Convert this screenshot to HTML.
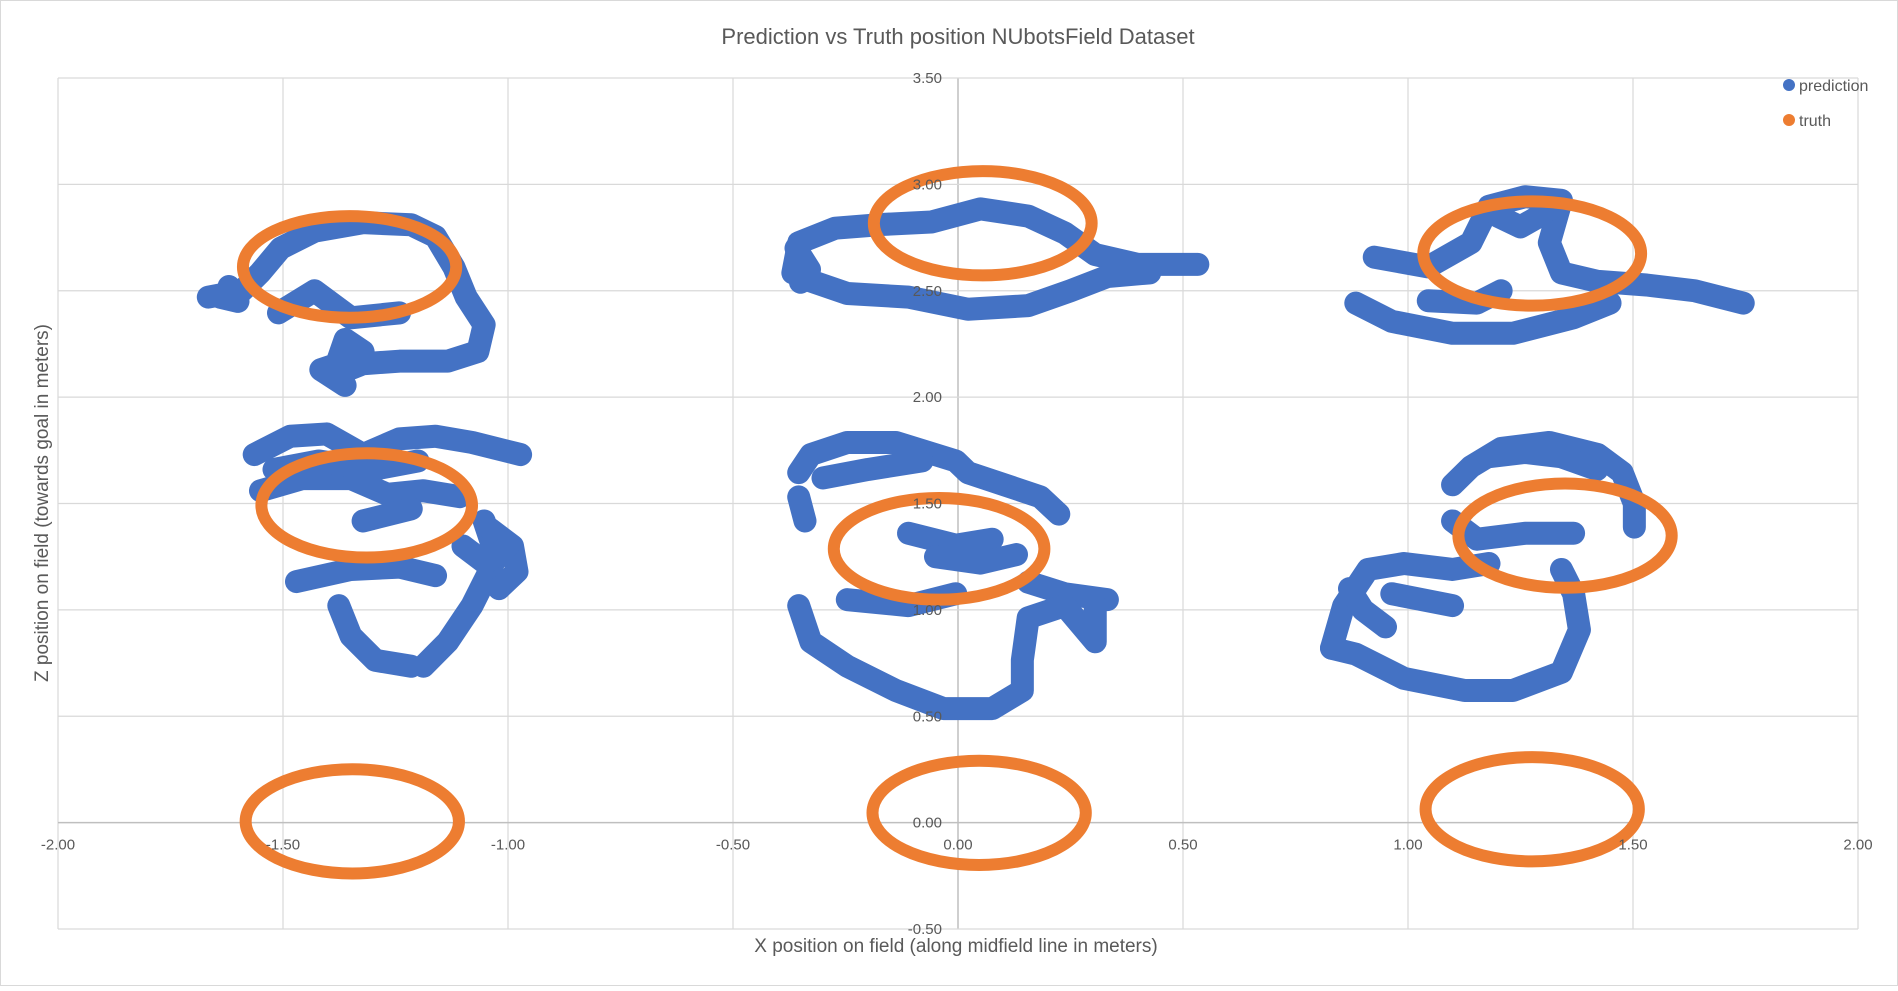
<!DOCTYPE html>
<html><head><meta charset="utf-8"><style>
html,body{margin:0;padding:0;background:#fff;}
svg text{font-family:"Liberation Sans",sans-serif;}
</style></head><body>
<svg id="chart" width="1898" height="986" xmlns="http://www.w3.org/2000/svg">
<rect x="0.5" y="0.5" width="1897" height="985" fill="#fff" stroke="#d9d9d9"/>
<text x="958" y="44" text-anchor="middle" font-size="22" fill="#595959">Prediction vs Truth position NUbotsField Dataset</text>
<g id="grid"></g>
<g id="series"></g>
<g id="ticks"></g>
<text x="956" y="952" text-anchor="middle" font-size="19" fill="#595959">X position on field (along midfield line in meters)</text>
<text transform="translate(48,503) rotate(-90)" text-anchor="middle" font-size="19" fill="#595959">Z position on field (towards goal in meters)</text>
<g>
<circle cx="1789" cy="85" r="6" fill="#4472C4"/>
<text x="1799" y="91" font-size="16" fill="#595959">prediction</text>
<circle cx="1789" cy="120" r="6" fill="#ED7D31"/>
<text x="1799" y="126" font-size="16" fill="#595959">truth</text>
</g>
</svg>
<script>
const xTicks = [-2, -1.5, -1, -0.5, 0, 0.5, 1, 1.5, 2];
const yTicks = [-0.5, 0, 0.5, 1, 1.5, 2, 2.5, 3, 3.5];
const xTickLabels = ["-2.00","-1.50","-1.00","-0.50","0.00","0.50","1.00","1.50","2.00"];
const yTickLabels = ["-0.50","0.00","0.50","1.00","1.50","2.00","2.50","3.00","3.50"];
const truthCX = [-1.352, 0.055, 1.276, -1.314, -0.042, 1.349, -1.346, 0.047, 1.276];
const truthCY = [2.612, 2.817, 2.675, 1.491, 1.287, 1.349, 0.006, 0.046, 0.063];
const truthRX = [0.237, 0.242, 0.242, 0.234, 0.234, 0.237, 0.237, 0.237, 0.237];
const truthRY = [0.239, 0.245, 0.245, 0.245, 0.239, 0.245, 0.245, 0.245, 0.245];
const predX = [
 [-1.666,-1.591,-1.551,-1.505,-1.43,-1.322,-1.215,-1.161,-1.12,-1.093,-1.053,-1.067,-1.134,-1.241,-1.322,-1.39,-1.362,-1.322,-1.376,-1.416,-1.362],
 [-1.51,-1.43,-1.349,-1.241],
 [-1.64,-1.60,-1.62],
 [-0.367,-0.354,-0.273,-0.165,-0.059,0.05,0.156,0.237,0.305,0.399,0.533],
 [-0.34,-0.246,-0.11,0.022,0.156,0.25,0.332,0.426],
 [-0.36,-0.33,-0.35],
 [0.925,1.045,1.14,1.18,1.26,1.341,1.314,1.341,1.422,1.53,1.637,1.745],
 [0.884,0.964,1.099,1.233,1.368,1.449],
 [1.045,1.153,1.207],
 [1.2,1.25,1.30],
 [-1.564,-1.484,-1.403,-1.322,-1.241,-1.161,-1.08,-0.972],
 [-1.55,-1.457,-1.349,-1.268,-1.188,-1.107],
 [-1.52,-1.42,-1.30,-1.20],
 [-1.322,-1.215],
 [-1.053,-1.026,-1.08,-1.134,-1.188],
 [-1.47,-1.349,-1.241,-1.161],
 [-1.376,-1.349,-1.295,-1.215],
 [-1.04,-0.99,-0.98,-1.02],
 [-1.10,-1.05,-1.00],
 [-0.354,-0.327,-0.246,-0.138,-0.005,0.022,0.103,0.183,0.224],
 [-0.354,-0.34],
 [-0.30,-0.20,-0.08],
 [-0.11,-0.005,0.076],
 [-0.05,0.05,0.13],
 [0.156,0.237,0.332],
 [-0.354,-0.327,-0.246,-0.138,-0.032,0.076,0.143,0.143,0.156,0.237,0.305,0.305],
 [-0.246,-0.11,-0.005],
 [1.099,1.14,1.207,1.314,1.422,1.476,1.503,1.503],
 [1.18,1.26,1.34,1.42],
 [1.099,1.153,1.26,1.368],
 [0.83,0.857,0.911,0.991,1.099,1.18],
 [0.83,0.884,0.991,1.126,1.233,1.341,1.381,1.368,1.341],
 [0.87,0.90,0.95],
 [0.964,1.099]
];
const predY = [
 [2.47,2.50,2.584,2.70,2.78,2.82,2.81,2.755,2.61,2.47,2.34,2.214,2.169,2.169,2.157,2.10,2.271,2.214,2.157,2.129,2.055],
 [2.396,2.50,2.373,2.396],
 [2.47,2.45,2.52],
 [2.584,2.726,2.794,2.812,2.823,2.885,2.851,2.772,2.67,2.624,2.624],
 [2.555,2.487,2.47,2.413,2.43,2.50,2.567,2.584],
 [2.70,2.60,2.54],
 [2.658,2.612,2.726,2.897,2.942,2.925,2.726,2.584,2.544,2.527,2.50,2.442],
 [2.442,2.356,2.30,2.30,2.373,2.442],
 [2.453,2.442,2.50],
 [2.85,2.80,2.86],
 [1.73,1.816,1.827,1.73,1.804,1.816,1.787,1.73],
 [1.56,1.617,1.617,1.543,1.56,1.532],
 [1.66,1.70,1.66,1.70],
 [1.418,1.475],
 [1.418,1.247,1.02,0.85,0.735],
 [1.133,1.19,1.201,1.161],
 [1.02,0.877,0.763,0.735],
 [1.38,1.30,1.18,1.10],
 [1.30,1.22,1.30],
 [1.645,1.73,1.787,1.787,1.70,1.645,1.588,1.531,1.45],
 [1.531,1.418],
 [1.62,1.66,1.70],
 [1.36,1.304,1.332],
 [1.25,1.22,1.26],
 [1.13,1.076,1.048],
 [1.02,0.85,0.735,0.621,0.536,0.536,0.621,0.764,0.963,1.02,0.85,1.02],
 [1.048,1.02,1.076],
 [1.588,1.673,1.759,1.787,1.73,1.645,1.50,1.389],
 [1.72,1.74,1.72,1.66],
 [1.418,1.332,1.36,1.36],
 [0.82,1.019,1.19,1.218,1.19,1.218],
 [0.82,0.792,0.678,0.621,0.621,0.707,0.906,1.076,1.19],
 [1.10,1.00,0.92],
 [1.076,1.02]
];
const L=58, R=1858, T=78, B=929;
const xMin=-2, xMax=2, yMin=-0.5, yMax=3.5;
function sx(v){return L+(v-xMin)/(xMax-xMin)*(R-L);}
function sy(v){return B-(v-yMin)/(yMax-yMin)*(B-T);}
const NS="http://www.w3.org/2000/svg";
function mk(tag,attrs,parent){const e=document.createElementNS(NS,tag);for(const k in attrs)e.setAttribute(k,attrs[k]);parent.appendChild(e);return e;}
const grid=document.getElementById('grid'), ticks=document.getElementById('ticks'), series=document.getElementById('series');
xTicks.forEach((v,i)=>{
 const ln=mk('line',{x1:sx(v),x2:sx(v),y1:T,y2:B,stroke:v===0?'#bfbfbf':'#d9d9d9','stroke-width':v===0?1.5:1.2},grid);
 
 
 const t=mk('text',{x:sx(v),y:sy(0)+27,'text-anchor':'middle','font-size':15,fill:'#595959'},ticks);
 t.textContent=xTickLabels[i];
 
 
});
yTicks.forEach((v,i)=>{
 const ln=mk('line',{x1:L,x2:R,y1:sy(v),y2:sy(v),stroke:v===0?'#bfbfbf':'#d9d9d9','stroke-width':v===0?1.5:1.2},grid);
 
 
 const t=mk('text',{x:sx(0)-16,y:sy(v)+5,'text-anchor':'end','font-size':15,fill:'#595959'},ticks);
 t.textContent=yTickLabels[i];
 
 
});
predX.forEach((xs,k)=>{
 const pts=xs.map((x,i)=>sx(x)+','+sy(predY[k][i])).join(' ');
 const pl=mk('polyline',{points:pts,fill:'none',stroke:'#4472C4','stroke-width':23,'stroke-linecap':'round','stroke-linejoin':'round'},series);
 
 
});
truthCX.forEach((cx,i)=>{
 const e=mk('ellipse',{cx:sx(cx),cy:sy(truthCY[i]),rx:truthRX[i]*(R-L)/(xMax-xMin),ry:truthRY[i]*(B-T)/(yMax-yMin),fill:'none',stroke:'#ED7D31','stroke-width':12},series);
 
 
});
</script>
</body></html>
